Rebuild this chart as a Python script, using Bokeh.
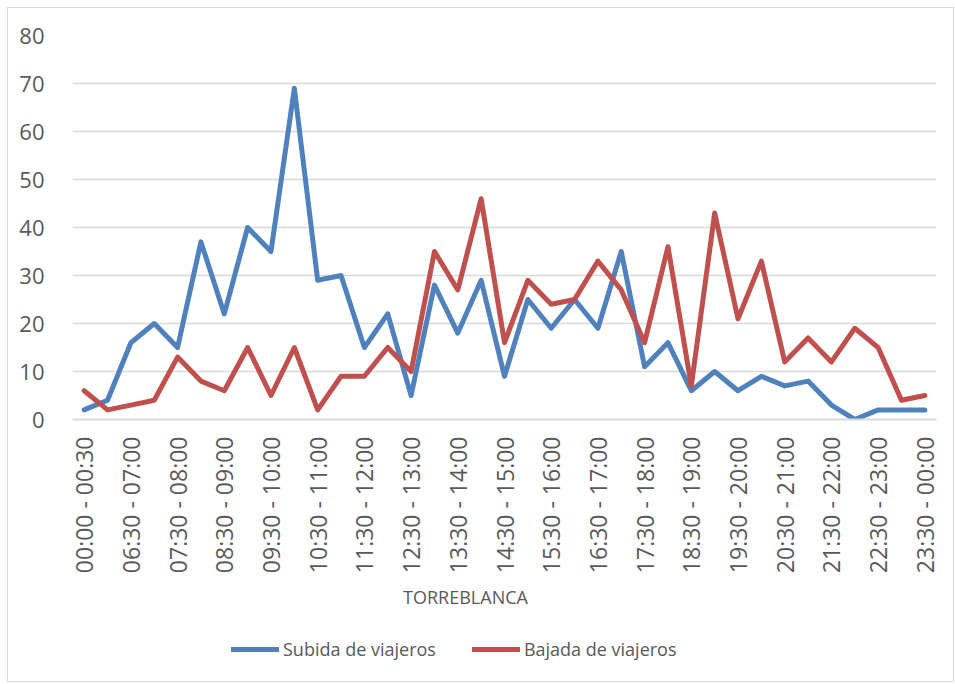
import math
from bokeh.plotting import figure
from bokeh.layouts import column
from bokeh.models import Range1d, FixedTicker, Legend, LegendItem, Label, ColumnDataSource
from bokeh.embed import file_html
from bokeh.resources import INLINE

categories = ["00:00 - 00:30", "06:00 - 06:30", "06:30 - 07:00", "07:00 - 07:30", "07:30 - 08:00",
              "08:00 - 08:30", "08:30 - 09:00", "09:00 - 09:30", "09:30 - 10:00", "10:00 - 10:30",
              "10:30 - 11:00", "11:00 - 11:30", "11:30 - 12:00", "12:00 - 12:30", "12:30 - 13:00",
              "13:00 - 13:30", "13:30 - 14:00", "14:00 - 14:30", "14:30 - 15:00", "15:00 - 15:30",
              "15:30 - 16:00", "16:00 - 16:30", "16:30 - 17:00", "17:00 - 17:30", "17:30 - 18:00",
              "18:00 - 18:30", "18:30 - 19:00", "19:00 - 19:30", "19:30 - 20:00", "20:00 - 20:30",
              "20:30 - 21:00", "21:00 - 21:30", "21:30 - 22:00", "22:00 - 22:30", "22:30 - 23:00",
              "23:00 - 23:30", "23:30 - 00:00"]
subida = [2, 4, 16, 20, 15, 37, 22, 40, 35, 69, 29, 30, 15, 22, 5, 28, 18, 29, 9, 25, 19, 25, 19,
          35, 11, 16, 6, 10, 6, 9, 7, 8, 3, 0, 2, 2, 2]
bajada = [6, 2, 3, 4, 13, 8, 6, 15, 5, 15, 2, 9, 9, 15, 10, 35, 27, 46, 16, 29, 24, 25, 33, 27,
          16, 36, 7, 43, 21, 33, 12, 17, 12, 19, 15, 4, 5]
y_ticks = [0, 10, 20, 30, 40, 50, 60, 70, 80]
x_title = "TORREBLANCA"
series_names = ["Subida de viajeros", "Bajada de viajeros"]
series_colors = ["#4F81BD", "#C0504D"]

FONT = "Open Sans"
TXT = "#595959"
GRID = "#D9D9D9"
W = 945

idx = list(range(len(categories)))
src = ColumnDataSource(dict(x=idx, cat=categories, subida=subida, bajada=bajada))

# ---- main chart ----
p = figure(width=W, height=568, output_backend="svg", toolbar_location=None,
           x_range=Range1d(-0.5, len(categories) - 0.5), y_range=Range1d(0, 80),
           min_border_left=64, min_border_right=17, min_border_top=27, min_border_bottom=155)
p.outline_line_color = None

p.line("x", "subida", source=src, line_color=series_colors[0], line_width=5,
       line_join="round", line_cap="round")
p.line("x", "bajada", source=src, line_color=series_colors[1], line_width=5,
       line_join="round", line_cap="round")

p.xaxis.ticker = FixedTicker(ticks=idx[::2])
p.xaxis.major_label_overrides = {i: categories[i] for i in idx[::2]}
p.xaxis.major_label_orientation = math.pi / 2
p.xaxis.major_tick_line_color = None
p.xaxis.minor_tick_line_color = None
p.xaxis.axis_line_color = GRID
p.xaxis.axis_line_width = 2
p.xaxis.major_label_text_font = FONT
p.xaxis.major_label_text_font_size = "23px"
p.xaxis.major_label_text_color = TXT
p.xaxis.major_label_standoff = 11

p.yaxis.ticker = FixedTicker(ticks=y_ticks)
p.yaxis.major_tick_line_color = None
p.yaxis.minor_tick_line_color = None
p.yaxis.axis_line_color = None
p.yaxis.major_label_text_font = FONT
p.yaxis.major_label_text_font_size = "22px"
p.yaxis.major_label_text_color = TXT
p.yaxis.major_label_standoff = 22

p.xgrid.grid_line_color = None
p.ygrid.grid_line_color = GRID
p.ygrid.grid_line_width = 1.5

# ---- axis title + legend strip; its frame is aligned with the chart frame ----
q = figure(width=W, height=105, output_backend="svg", toolbar_location=None,
           x_range=Range1d(72, 936), y_range=Range1d(0, 105),
           x_axis_type=None, y_axis_type=None,
           min_border_left=0, min_border_right=0, min_border_top=0, min_border_bottom=0)
q.outline_line_color = None
q.grid.grid_line_color = None

q.add_layout(Label(x=465, y=85, text=x_title, text_font=FONT, text_font_size="18px",
                   text_color=TXT, text_align="center", text_baseline="middle"))

# legend key renderers: the series data, which falls outside this strip's x range (clipped)
l1 = q.line("x", "subida", source=src, line_color=series_colors[0], line_width=5, line_cap="round")
l2 = q.line("x", "bajada", source=src, line_color=series_colors[1], line_width=5, line_cap="round")
legend = Legend(items=[LegendItem(label=series_names[0], renderers=[l1]),
                       LegendItem(label=series_names[1], renderers=[l2])],
                orientation="horizontal", location=(159, 20),
                label_text_font=FONT, label_text_font_size="18px", label_text_color=TXT,
                glyph_width=48, glyph_height=20, spacing=36, padding=0, margin=0,
                label_standoff=4, border_line_color=None, background_fill_alpha=0)
q.add_layout(legend, "center")

layout = column(p, q, spacing=0)
layout.styles = {"border": "1px solid #D9D9D9", "margin": "7px 0 0 7px"}

open("out.html", "w").write(file_html(layout, INLINE))
